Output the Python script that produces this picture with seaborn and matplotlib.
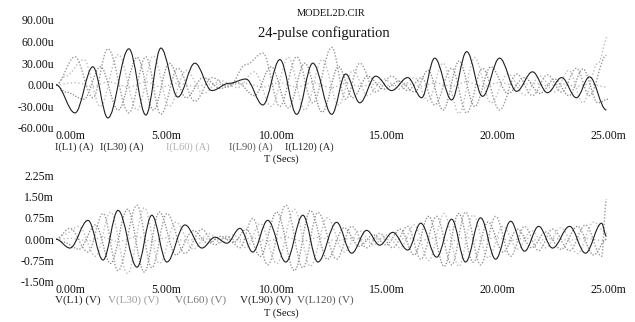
import numpy as np
import pandas as pd
import matplotlib
matplotlib.use("Agg")
import matplotlib.pyplot as plt
from matplotlib.path import Path
from matplotlib.patches import PathPatch
import seaborn as sns

# ---------------- data ----------------
# Top panel: currents (uA); times in ms (turning points of each trace)
top_t_ext = [0.0, 0.86, 1.67, 2.35, 3.30, 4.07, 4.75, 5.52, 6.29, 7.06, 7.83, 8.60,
             9.37, 10.14, 10.90, 11.63, 12.49, 13.12, 13.76, 14.48, 15.20, 15.93,
             16.56, 17.15, 17.92, 18.60, 19.32, 20.09, 20.86, 21.58, 22.26, 22.90,
             23.57, 24.16, 24.93]
top_t_q = [0.0, 0.43, 1.26, 2.01, 2.82, 3.68, 4.41, 5.13, 5.90, 6.67, 7.45, 8.22,
           8.98, 9.75, 10.52, 11.27, 12.06, 12.80, 13.44, 14.12, 14.84, 15.56,
           16.24, 16.85, 17.53, 18.26, 18.96, 19.70, 20.47, 21.22, 21.92, 22.58,
           23.23, 23.86, 24.55, 25.0]
i_L1 = [0, -39, 25, -46, 50, -42, 51, -17, 30, -8, 2, 8, -28, 35, -41, 30, -41, 15,
        -25, 12, -8, 10, -18, 37, -21, 46, -16, 37, -9, 18, -11, 10, -18, 11, -35]
i_L30 = [0, 39, -18, 50, -39, 39, -41, 23, -23, 10, -3, 28, 44, -30, 39, -25, 52,
         -20, 30, -10, 12, -8, 10, -28, 23, -39, 23, -35, 15, -15, 14, -10, 23, -15, 41]
i_L60 = [0, 12, 35, -30, 42, -35, 40, -30, 20, -12, 6, -4, 18, -30, 38, -35, 35, -28,
         20, -15, 8, -6, 10, -22, 30, -40, 38, -25, 15, -14, 12, -10, 20, -25, 30, 68]
i_L90 = [0, -10, -20, 25, -35, 38, -35, 30, -18, 10, -5, 3, -15, 25, -32, 30, -38, 25,
         -18, 12, -6, 5, -10, 20, -35, 33, -30, 25, -12, 10, -12, 8, -15, 22, -25, -20]
i_L120 = [0, 3, -2, 4, -3, 4, -3, 2, -2, 1, 0, 2, -3, 3, -3, 3, -4, 2, -2, 1, -1, 1,
          -2, 3, -2, 4, -2, 3, -1, 2, -1, 1, -2, 1, -3]

# Bottom panel: voltages (mV); times in ms
bot_t_ext = [0.0, 0.63, 1.45, 2.13, 2.81, 3.67, 4.34, 5.02, 5.84, 6.61, 7.20, 7.74,
             8.33, 8.91, 9.59, 10.41, 11.18, 11.86, 12.71, 13.39, 14.07, 14.66,
             15.25, 15.93, 16.52, 17.24, 17.92, 18.55, 19.23, 19.91, 20.59, 21.22,
             21.86, 22.49, 23.26, 23.98, 24.71, 24.93]
bot_t_q = [0.0, 0.32, 1.04, 1.79, 2.47, 3.24, 4.00, 4.68, 5.43, 6.22, 6.90, 7.47,
           8.03, 8.62, 9.25, 10.00, 10.80, 11.52, 12.29, 13.05, 13.73, 14.37, 14.95,
           15.59, 16.22, 16.88, 17.58, 18.24, 18.89, 19.57, 20.25, 20.90, 21.54,
           22.17, 22.87, 23.62, 24.34, 24.95]
v_L1 = [0, -0.31, 0.66, -0.73, 1.01, -0.98, 0.84, -0.80, 0.50, -0.31, 0.07, -0.14,
        0.38, -0.45, 0.66, -0.80, 0.84, -0.80, 0.59, -0.49, 0.31, -0.21, 0.24, -0.38,
        0.56, -0.63, 0.70, -0.80, 0.75, -0.70, 0.63, -0.42, 0.45, -0.31, 0.45, -0.49,
        0.56, 0.10]
v_L30 = [0, 0.38, -0.45, 0.90, -1.10, 1.19, -1.00, 0.90, -0.50, 0.35, -0.20, 0.10,
         -0.30, 0.73, -0.90, 1.19, -1.00, 0.94, -0.70, 0.45, -0.30, 0.20, -0.30, 0.45,
         -0.70, 0.80, -0.90, 0.95, -0.90, 0.80, -0.60, 0.45, -0.40, 0.35, -0.40, 0.50,
         -0.60, 1.40]
v_L60 = [0, 0.15, 0.45, -0.60, 0.95, -1.20, 1.10, -0.85, 0.60, -0.35, 0.20, -0.12,
         0.15, -0.30, 0.55, -0.85, 1.05, -0.95, 0.75, -0.45, 0.30, -0.20, 0.15, -0.30,
         0.50, -0.75, 0.90, -0.95, 0.85, -0.65, 0.45, -0.35, 0.30, -0.30, 0.40, -0.50,
         0.60, 0.20]
v_L90 = [0, -0.10, -0.35, 0.50, -0.85, 1.05, -1.15, 0.95, -0.55, 0.30, -0.15, 0.10,
         -0.12, 0.35, -0.60, 0.95, -1.10, 1.00, -0.70, 0.40, -0.25, 0.15, -0.20, 0.35,
         -0.55, 0.80, -0.95, 0.90, -0.80, 0.60, -0.45, 0.35, -0.30, 0.25, -0.35, 0.45,
         -0.55, 0.00]
v_L120 = [0, 0.03, -0.05, 0.06, -0.08, 0.08, -0.07, 0.05, -0.04, 0.02, -0.01, 0.01,
          -0.02, 0.04, -0.05, 0.07, -0.07, 0.06, -0.05, 0.03, -0.02, 0.01, -0.02, 0.03,
          -0.04, 0.05, -0.06, 0.06, -0.05, 0.05, -0.04, 0.03, -0.03, 0.02, -0.03, 0.03,
          -0.04, 0.0]

x_ticks = [0, 5, 10, 15, 20, 25]
x_ticklabels = ["0.00m", "5.00m", "10.00m", "15.00m", "20.00m", "25.00m"]
top_yticks = [-60, -30, 0, 30, 60, 90]
top_yticklabels = ["-60.00u", "-30.00u", "0.00u", "30.00u", "60.00u", "90.00u"]
bot_yticks = [-1.50, -0.75, 0.0, 0.75, 1.50, 2.25]
bot_yticklabels = ["-1.50m", "-0.75m", "0.00m", "0.75m", "1.50m", "2.25m"]
top_names = ["I(L1) (A)", "I(L30) (A)", "I(L60) (A)", "I(L90) (A)", "I(L120) (A)"]
bot_names = ["V(L1) (V)", "V(L30) (V)", "V(L60) (V)", "V(L90) (V)", "V(L120) (V)"]
title_file = "MODEL2D.CIR"
title_main = "24-pulse configuration"
x_title = "T (Secs)"

# ---------------- styling ----------------
sns.set_style("white")
plt.rcParams["font.family"] = ["Liberation Serif", "DejaVu Serif"]

line_colors = ["#1e1e1e", "#9a9a9a", "#bdbdbd", "#808080", "#b0b0b0"]
line_styles = ["-", (0, (1, 1.3)), (0, (1, 1.6)), (0, (1, 1.3)), (0, (1, 2))]
line_widths = [0.8, 1.0, 1.0, 0.9, 0.9]
top_label_colors = ["#222222", "#222222", "#b0b0b0", "#555555", "#222222"]
bot_label_colors = ["#222222", "#9a9a9a", "#777777", "#222222", "#555555"]


def long_frame(names, ts, vs):
    parts = []
    for n, t, v in zip(names, ts, vs):
        parts.append(pd.DataFrame({"t": t, "v": v, "series": n}))
    return pd.concat(parts, ignore_index=True)


df_top = long_frame(top_names,
                    [top_t_ext, top_t_ext, top_t_q, top_t_q, top_t_ext],
                    [i_L1, i_L30, i_L60, i_L90, i_L120])
df_bot = long_frame(bot_names,
                    [bot_t_ext, bot_t_ext, bot_t_q, bot_t_q, bot_t_ext],
                    [v_L1, v_L30, v_L60, v_L90, v_L120])

W, H = 635, 322
fig = plt.figure(figsize=(W / 100, H / 100), dpi=100)
fig.patch.set_facecolor("white")

ax1 = fig.add_axes([56 / W, 1 - 128 / H, 552 / W, 108 / H])
ax2 = fig.add_axes([56 / W, 1 - 282 / H, 552 / W, 107 / H])


def smooth_line(ax, line, ls, lw, a=0.364):
    """Render a seaborn line through its turning points as a smooth curve
    (horizontal tangents at each turning point), in data coordinates."""
    x = np.asarray(line.get_xdata(), float)
    y = np.asarray(line.get_ydata(), float)
    verts = [(x[0], y[0])]
    codes = [Path.MOVETO]
    for i in range(len(x) - 1):
        dx = x[i + 1] - x[i]
        verts += [(x[i] + a * dx, y[i]), (x[i + 1] - a * dx, y[i + 1]),
                  (x[i + 1], y[i + 1])]
        codes += [Path.CURVE4] * 3
    patch = PathPatch(Path(verts, codes), fill=False, edgecolor=line.get_color(),
                      lw=lw, linestyle=ls, capstyle="butt", zorder=line.get_zorder())
    ax.add_patch(patch)
    line.remove()


def draw(ax, df, names, yticks, ylabels, ylim):
    for n in names[::-1]:          # light traces first, dark trace on top
        i = names.index(n)
        sub = df[df["series"] == n]
        sns.lineplot(data=sub, x="t", y="v", ax=ax, color=line_colors[i],
                     estimator=None, sort=False, legend=False)
        smooth_line(ax, ax.lines[-1], line_styles[i], line_widths[i])
    ax.set_xlim(0, 25)
    ax.set_ylim(*ylim)
    ax.set_xticks(x_ticks)
    ax.set_xticklabels(x_ticklabels)
    ax.set_yticks(yticks)
    ax.set_yticklabels(ylabels)
    ax.set_xlabel("")
    ax.set_ylabel("")
    for s in ax.spines.values():
        s.set_visible(False)
    ax.tick_params(length=0, pad=1.5, labelsize=8.5, colors="#111111")
    ax.get_xticklabels()[0].set_ha("left")
    ax.set_facecolor("none")


draw(ax1, df_top, top_names, top_yticks, top_yticklabels, (-60, 90))
draw(ax2, df_bot, bot_names, bot_yticks, bot_yticklabels, (-1.5, 2.25))


def ftext(x, y, s, **kw):
    fig.text(x / W, 1 - y / H, s, **kw)


ftext(331, 13, title_file, ha="center", va="center", fontsize=7.5, color="#111111")
ftext(324, 33, title_main, ha="center", va="center", fontsize=10.5, color="#111111")

for x, name, c in zip([55, 100, 166, 229, 285], top_names, top_label_colors):
    ftext(x, 147, name, ha="left", va="center", fontsize=7.5, color=c)
for x, name, c in zip([55, 108, 175, 240, 297], bot_names, bot_label_colors):
    ftext(x, 300, name, ha="left", va="center", fontsize=8, color=c)

ftext(281, 159, x_title, ha="center", va="center", fontsize=7.5, color="#111111")
ftext(281, 313, x_title, ha="center", va="center", fontsize=7.5, color="#111111")

fig.savefig("out.png", dpi=100, facecolor="white")
